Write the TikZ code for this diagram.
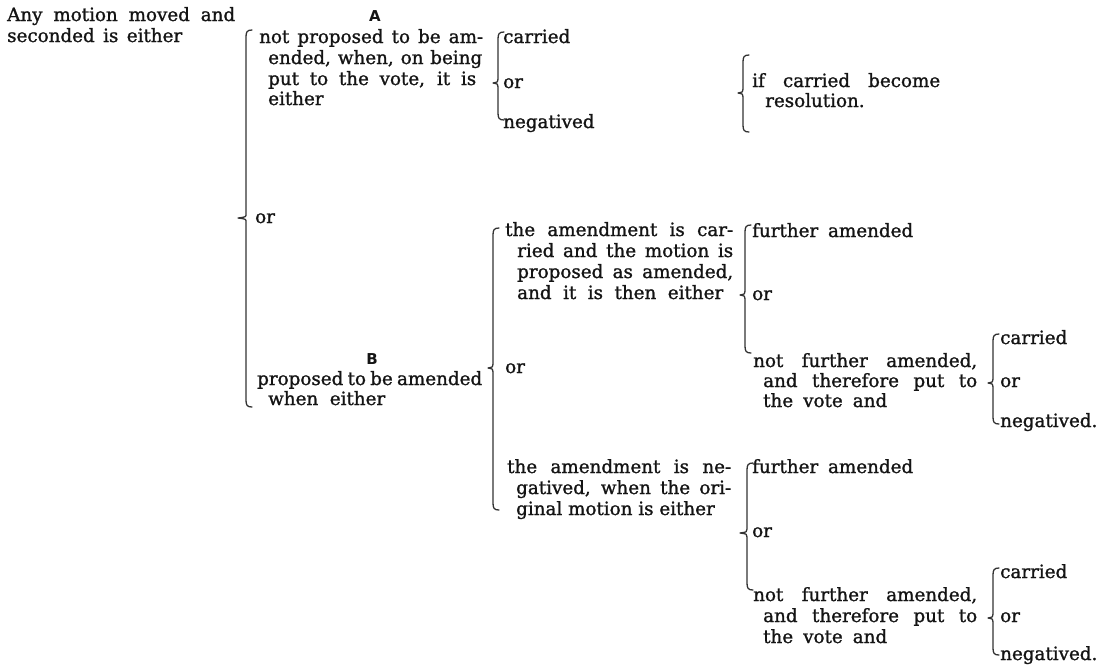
\documentclass[tikz,border=0pt]{standalone}
\usepackage{fontspec}
\setmainfont{DejaVu Serif}[FakeBold=1.2]
\newfontfamily\hdfont{DejaVu Sans}
\newcommand{\jl}[2]{\makebox[#1pt][s]{#2}}
\newcommand{\brk}[5]{% x, top, tip, bottom, tipx
  \draw[brk] (#1+6,#2) .. controls (#1+1,#2) and (#1,#2+2) .. (#1,#2+7)
    -- (#1,#3-4) .. controls (#1,#3-1) .. (#5,#3)
    .. controls (#1,#3+1) .. (#1,#3+4)
    -- (#1,#4-7) .. controls (#1,#4-2) and (#1+1,#4) .. (#1+6,#4);}
\begin{document}
\begin{tikzpicture}[x=1pt,y=-1pt,
  txt/.style={inner sep=0pt,anchor=base west,font=\fontsize{18.3}{21}\selectfont,text=black!92},
  hd/.style={inner sep=0pt,anchor=base,font=\hdfont\bfseries\fontsize{15}{18}\selectfont,text=black!92},
  brk/.style={line width=1.3pt,black!80,line cap=round,line join=round}]
\useasboundingbox[fill=white] (0,0) rectangle (1107,670);
% left
\node[txt] (any1) at (7,21) {\jl{228}{Any motion moved and}};
\node[txt] (any2) at (7,42) {\jl{175}{seconded is either}};
\node[hd] (A) at (375,21) {A};
\node[txt] (a1) at (259,43) {\jl{224}{not proposed to be am-}};
\node[txt] (a2) at (268,64) {\jl{214}{ended, when, on being}};
\node[txt] (a3) at (268,85) {\jl{208}{put to the vote, it is}};
\node[txt] (a4) at (268,105) {either};
\brk{246}{30}{218}{407}{238}
\node[txt] (or1) at (255,223) {or};
\brk{498}{32}{83}{120}{493}
\node[txt] (c1) at (503,43) {carried};
\node[txt] (o1) at (503,88) {or};
\node[txt] (n1) at (503,128) {negatived};
\brk{743}{55}{93}{132}{738}
\node[txt] (r1) at (752,87) {\jl{188}{if carried become}};
\node[txt] (r2) at (765,107) {resolution.};
% B
\node[hd] (B) at (372,364) {B};
\node[txt] (b1) at (257,385) {\jl{225}{proposed to be amended}};
\node[txt] (b2) at (268,405) {\jl{117}{when either}};
\brk{493}{228}{368}{510}{488}
\node[txt] (or4) at (505,373) {or};
% upper sub-branch
\node[txt] (u1) at (505,236) {\jl{228}{the amendment is car-}};
\node[txt] (u2) at (517,257) {\jl{216}{ried and the motion is}};
\node[txt] (u3) at (517,278) {\jl{216}{proposed as amended,}};
\node[txt] (u4) at (517,299) {\jl{206}{and it is then either}};
\brk{745}{225}{295}{353}{740}
\node[txt] (f1) at (752,237) {\jl{161}{further amended}};
\node[txt] (o5) at (752,300) {or};
\node[txt] (g1) at (753,367) {\jl{224}{not further amended,}};
\node[txt] (g2) at (763,387) {\jl{214}{and therefore put to}};
\node[txt] (g3) at (763,407) {\jl{124}{the vote and}};
\brk{993}{334}{383}{424}{988}
\node[txt] (c6) at (1000,344) {carried};
\node[txt] (o6) at (1000,387) {or};
\node[txt] (n6) at (1000,427) {negatived.};
% lower sub-branch
\node[txt] (l1) at (507,473) {\jl{224}{the amendment is ne-}};
\node[txt] (l2) at (516,494) {\jl{215}{gatived, when the ori-}};
\node[txt] (l3) at (516,515) {ginal motion is either};
\brk{747}{463}{533}{590}{740}
\node[txt] (f7) at (752,473) {\jl{161}{further amended}};
\node[txt] (o7) at (752,537) {or};
\node[txt] (h1) at (753,601) {\jl{224}{not further amended,}};
\node[txt] (h2) at (763,622) {\jl{214}{and therefore put to}};
\node[txt] (h3) at (763,643) {\jl{124}{the vote and}};
\brk{993}{568}{618}{655}{988}
\node[txt] (c8) at (1000,578) {carried};
\node[txt] (o8) at (1000,622) {or};
\node[txt] (n8) at (1000,660) {negatived.};
\end{tikzpicture}
\end{document}
